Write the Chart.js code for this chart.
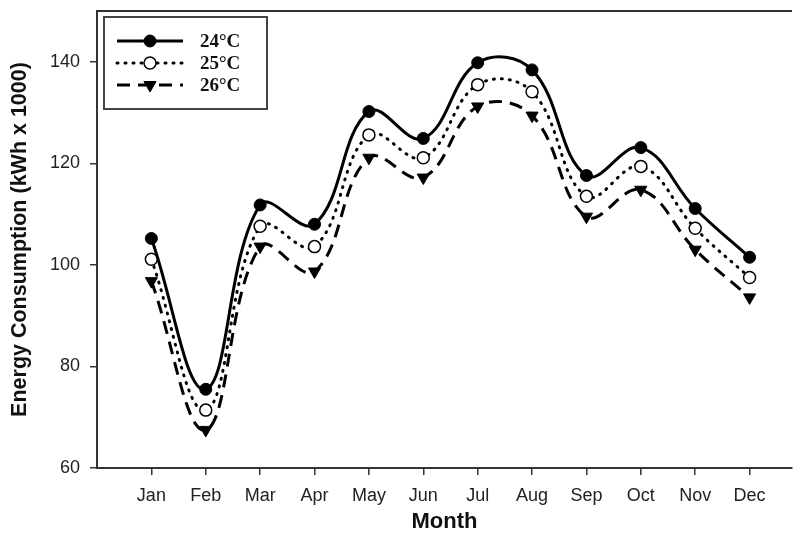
<!DOCTYPE html>
<html>
<head>
<meta charset="utf-8">
<script src="https://cdn.jsdelivr.net/npm/chart.js@4/dist/chart.umd.min.js"></script>
<style>
  html, body { margin: 0; padding: 0; background: #fff; overflow: hidden; }
  #wrap { width: 800px; height: 535px; }
</style>
</head>
<body>
<div id="wrap"><canvas id="energyChart" width="800" height="535"></canvas></div>
<script>
// values (kWh x 1000)
const months  = ['Jan', 'Feb', 'Mar', 'Apr', 'May', 'Jun', 'Jul', 'Aug', 'Sep', 'Oct', 'Nov', 'Dec'];
const temp24  = [105.2, 75.5, 111.8, 108.0, 130.2, 124.9, 139.8, 138.4, 117.6, 123.1, 111.1, 101.5];
const temp25  = [101.1, 71.4, 107.6, 103.6, 125.6, 121.1, 135.5, 134.1, 113.5, 119.4, 107.2, 97.5];
const temp26  = [96.8, 67.5, 103.6, 98.7, 121.1, 117.2, 131.2, 129.4, 109.5, 114.8, 103.0, 93.6];
const yTicks  = [60, 80, 100, 120, 140];
const seriesLabels = ['24°C', '25°C', '26°C'];

const axisColor = '#333';
const sansFont  = 'Liberation Sans, Arial, sans-serif';
const curveTension = 0.4;

const toPoints = (arr) => arr.map((v, i) => ({ x: i + 1, y: v }));

// top frame line (the figure has no right edge visible)
const frameTop = {
  id: 'frameTop',
  afterDraw(chart) {
    const { ctx, chartArea } = chart;
    ctx.save();
    ctx.strokeStyle = axisColor;
    ctx.lineWidth = 2;
    ctx.beginPath();
    ctx.moveTo(chartArea.left - 1, chartArea.top);
    ctx.lineTo(chartArea.right, chartArea.top);
    ctx.stroke();
    ctx.restore();
  }
};

function drawMarker(ctx, ds, x, y) {
  ctx.save();
  ctx.fillStyle = ds.pointBackgroundColor;
  ctx.strokeStyle = ds.pointBorderColor;
  ctx.lineWidth = ds.pointBorderWidth;
  ctx.setLineDash([]);
  ctx.beginPath();
  if (ds.pointStyle === 'triangle') {
    const r = ds.pointRadius;
    ctx.moveTo(x, y + r);
    ctx.lineTo(x - r * Math.sin(Math.PI / 3), y - r / 2);
    ctx.lineTo(x + r * Math.sin(Math.PI / 3), y - r / 2);
    ctx.closePath();
  } else {
    ctx.arc(x, y, ds.pointRadius, 0, Math.PI * 2);
  }
  ctx.fill();
  ctx.stroke();
  ctx.restore();
}

// boxed legend: line sample with marker + serif bold label
const boxLegend = {
  id: 'boxLegend',
  afterDraw(chart) {
    const { ctx } = chart;
    const left = 104, top = 17, w = 163, h = 92;
    ctx.save();
    ctx.strokeStyle = '#444';
    ctx.lineWidth = 2;
    ctx.strokeRect(left, top, w, h);

    chart.data.datasets.forEach((ds, i) => {
      const y = 41 + i * 22;
      ctx.save();
      ctx.strokeStyle = ds.borderColor;
      ctx.lineWidth = ds.borderWidth;
      ctx.lineCap = ds.borderCapStyle || 'butt';
      ctx.setLineDash(ds.borderDash || []);
      ctx.beginPath();
      ctx.moveTo(117, y);
      ctx.lineTo(183, y);
      ctx.stroke();
      ctx.restore();
      drawMarker(ctx, ds, 150, y);

      ctx.fillStyle = '#111';
      ctx.font = 'bold 19px "Liberation Serif", "Times New Roman", serif';
      ctx.textBaseline = 'middle';
      ctx.textAlign = 'left';
      ctx.fillText(ds.label, 200, y + 1);
    });
    ctx.restore();
  }
};

const ctx = document.getElementById('energyChart').getContext('2d');

new Chart(ctx, {
  type: 'line',
  data: {
    datasets: [
      {
        label: seriesLabels[0],
        data: toPoints(temp24),
        borderColor: '#000',
        borderWidth: 3,
        pointStyle: 'circle',
        pointRadius: 6,
        pointBackgroundColor: '#000',
        pointBorderColor: '#000',
        pointBorderWidth: 1,
        tension: curveTension,
      },
      {
        label: seriesLabels[1],
        data: toPoints(temp25),
        borderColor: '#000',
        borderWidth: 3,
        borderDash: [1, 7],
        borderCapStyle: 'round',
        pointStyle: 'circle',
        pointRadius: 6,
        pointBackgroundColor: '#fff',
        pointBorderColor: '#000',
        pointBorderWidth: 1.5,
        tension: curveTension,
      },
      {
        label: seriesLabels[2],
        data: toPoints(temp26),
        borderColor: '#000',
        borderWidth: 3,
        borderDash: [13, 8],
        pointStyle: 'triangle',
        rotation: 180,
        pointRadius: 7,
        pointBackgroundColor: '#000',
        pointBorderColor: '#000',
        pointBorderWidth: 1,
        tension: curveTension,
      },
    ]
  },
  options: {
    responsive: false,
    animation: false,
    devicePixelRatio: 1,
    layout: { padding: { top: 11, left: 0, right: 0, bottom: 0 } },
    plugins: {
      legend: { display: false },
      tooltip: { enabled: false },
    },
    scales: {
      x: {
        type: 'linear',
        min: 0,
        max: 12.78,
        afterBuildTicks: (s) => { s.ticks = months.map((m, i) => ({ value: i + 1 })); },
        afterFit: (s) => {
          s.height = 67;
          s.paddingLeft = 0; s.paddingRight = 0;
        },
        ticks: {
          autoSkip: false,
          maxRotation: 0,
          color: '#222',
          padding: 10,
          font: { family: sansFont, size: 18 },
          callback: (val) => months[Math.round(val) - 1],
        },
        grid: { drawOnChartArea: false, tickLength: 7, color: axisColor, lineWidth: 1.5 },
        border: { color: axisColor, width: 2 },
        title: {
          display: true,
          text: 'Month',
          color: '#111',
          font: { family: sansFont, size: 22, weight: 'bold' },
          padding: { top: 0, bottom: 0 },
        },
      },
      y: {
        type: 'linear',
        min: 60,
        max: 150,
        afterBuildTicks: (s) => { s.ticks = yTicks.map((v) => ({ value: v })); },
        afterFit: (s) => {
          s.width = 97;
          s.paddingTop = 0; s.paddingBottom = 0;
        },
        ticks: {
          color: '#222',
          padding: 10,
          font: { family: sansFont, size: 18 },
        },
        grid: { drawOnChartArea: false, tickLength: 7, color: axisColor, lineWidth: 1.5 },
        border: { color: axisColor, width: 2 },
        title: {
          display: true,
          text: 'Energy Consumption (kWh x 1000)',
          color: '#111',
          font: { family: sansFont, size: 21.5, weight: 'bold' },
          padding: { top: 7, bottom: 0 },
        },
      },
    },
  },
  plugins: [frameTop, boxLegend],
});
</script>
</body>
</html>
